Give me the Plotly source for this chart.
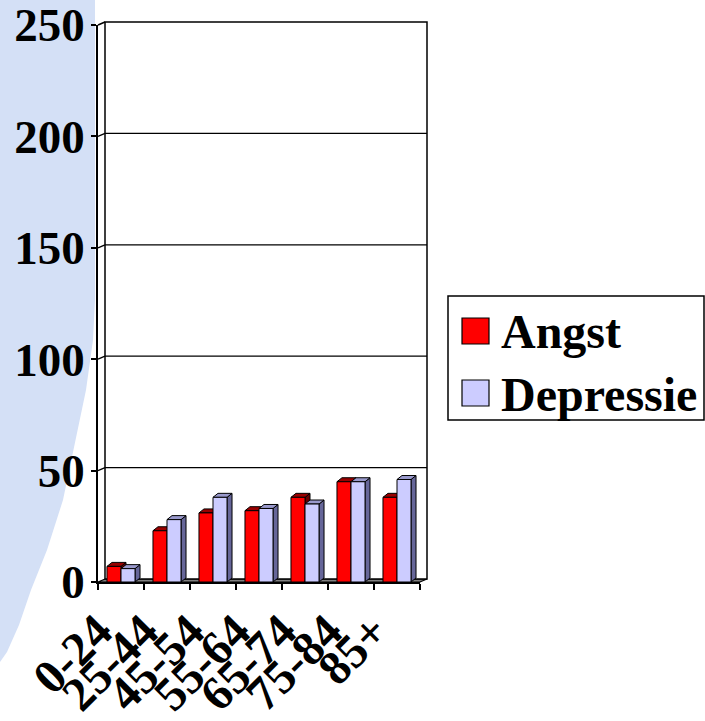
import plotly.graph_objects as go

categories = ["0-24", "25-44", "45-54", "55-64", "65-74", "75-84", "85+"]
angst = [7, 23, 31, 32, 38, 45, 38]
depressie = [6, 28, 38, 33, 35, 45, 46]
series_names = ["Angst", "Depressie"]
yticks = [0, 50, 100, 150, 200, 250]

W, H = 705, 721
FAM = "Liberation Serif, Times New Roman, serif"
FONT = dict(family=FAM, size=47, color="black", weight="bold")
XFONT = dict(family=FAM, size=48, color="black", weight="bold")
LFONT = dict(family=FAM, size=48, color="black", weight="bold")

RED, RED_TOP, RED_SIDE = "#FF0000", "#990000", "#660000"
BLU, BLU_TOP, BLU_SIDE = "#CCCCFF", "#9999CC", "#666699"

# plot-area geometry (pixels)
X0, X1 = 98, 420
Y0, Y1 = 582, 25
DX, DY = 7, 3          # wall depth
BDX, BDY = 5, 4        # bar depth

def px(x):
    return x / W

def py(y):
    return 1 - y / H

def P(x, y):
    return f"{px(x):.5f},{py(y):.5f}"

ncat = len(categories)
xpos = list(range(ncat))
bargap = 0.39
bw = (1 - bargap) / 2
ux = (X1 - X0) / ncat            # pixels per x unit
uy = (Y0 - Y1) / (yticks[-1])    # pixels per y unit
dxd, dyd = BDX / ux, BDY / uy

fig = go.Figure()
fig.add_trace(go.Bar(x=xpos, y=angst, name=series_names[0], marker=dict(color=RED, line=dict(color="black", width=1)),
                     showlegend=False))
fig.add_trace(go.Bar(x=xpos, y=depressie, name=series_names[1], marker=dict(color=BLU, line=dict(color="black", width=1)),
                     showlegend=False))

shapes = []
# background decoration
bg = [(0, 0), (95, 0), (95, 300), (93, 340), (86, 390), (77, 433), (63, 500), (47, 550), (31, 590), (19, 625), (7, 652), (0, 662)]
shapes.append(dict(type="path", xref="paper", yref="paper", layer="below",
                   path="M " + " L ".join(P(a, b) for a, b in bg) + " Z",
                   fillcolor="#D4E0F6", line=dict(width=0)))
# floor
shapes.append(dict(type="path", xref="paper", yref="paper", layer="below",
                   path=f"M {P(X0, Y0)} L {P(X1, Y0)} L {P(X1+DX, Y0-DY)} L {P(X0+DX, Y0-DY)} Z",
                   fillcolor="#808080", line=dict(color="black", width=1.2)))
# back wall
shapes.append(dict(type="rect", xref="paper", yref="paper", layer="below",
                   x0=px(X0+DX), x1=px(X1+DX), y0=py(Y0-DY), y1=py(Y1-DY),
                   fillcolor="white", line=dict(color="black", width=1.5)))
# top-left connector
shapes.append(dict(type="line", xref="paper", yref="paper", layer="below",
                   x0=px(X0), y0=py(Y1), x1=px(X0+DX), y1=py(Y1-DY), line=dict(color="black", width=1.5)))
# gridlines on back wall
for v in yticks[1:-1]:
    yy = Y0 - v * uy
    shapes.append(dict(type="line", xref="paper", yref="paper", layer="below",
                       x0=px(X0+DX), y0=py(yy-DY), x1=px(X1+DX), y1=py(yy-DY), line=dict(color="black", width=1.3)))
    shapes.append(dict(type="line", xref="paper", yref="paper", layer="below",
                       x0=px(X0), y0=py(yy), x1=px(X0+DX), y1=py(yy-DY), line=dict(color="black", width=1.3)))

def dpath(pts):
    return "M " + " L ".join(f"{a:.4f},{b:.4f}" for a, b in pts) + " Z"

for i in range(ncat):
    for xl, v, top, side in [(i - bw, angst[i], RED_TOP, RED_SIDE), (i, depressie[i], BLU_TOP, BLU_SIDE)]:
        xr = xl + bw
        shapes.append(dict(type="path", xref="x", yref="y", layer="below",
                           path=dpath([(xr, 0), (xr, v), (xr + dxd, v + dyd), (xr + dxd, dyd)]),
                           fillcolor=side, line=dict(color="black", width=1)))
        shapes.append(dict(type="path", xref="x", yref="y", layer="below",
                           path=dpath([(xl, v), (xr, v), (xr + dxd, v + dyd), (xl + dxd, v + dyd)]),
                           fillcolor=top, line=dict(color="black", width=1)))

# manual legend
LX0, LY0, LX1, LY1 = 448, 296, 704, 420
shapes.append(dict(type="rect", xref="paper", yref="paper", x0=px(LX0), x1=px(LX1), y0=py(LY1), y1=py(LY0),
                   fillcolor="white", line=dict(color="black", width=1.5), layer="below"))
annotations = []
for (sy, ty, col, name) in [(318, 331, RED, series_names[0]), (380, 394, BLU, series_names[1])]:
    shapes.append(dict(type="rect", xref="paper", yref="paper", x0=px(462), x1=px(489), y0=py(sy+26), y1=py(sy),
                       fillcolor=col, line=dict(color="black", width=1.2)))
    annotations.append(dict(xref="paper", yref="paper", x=px(499), y=py(ty), text=name, showarrow=False,
                            xanchor="left", yanchor="middle", font=LFONT))

fig.update_layout(
    template="none",
    width=W, height=H, margin=dict(l=0, r=0, t=0, b=0, pad=0, autoexpand=False),
    paper_bgcolor="white", plot_bgcolor="rgba(0,0,0,0)",
    barmode="group", bargap=bargap, bargroupgap=0,
    shapes=shapes, annotations=annotations, showlegend=False,
    xaxis=dict(domain=[px(X0), px(X1)], range=[-0.5, ncat - 0.5], tickmode="array", tickvals=xpos,
               ticktext=categories, tickangle=-45, tickfont=XFONT, ticks="", showgrid=False, zeroline=False,
               ticklabelshift=-23, ticklabelstandoff=0, ticklabeloverflow="allow",
               showline=True, linecolor="black", linewidth=1.5, automargin=False,
               minor=dict(tickmode="array", tickvals=[k - 0.5 for k in range(ncat + 1)], ticks="outside",
                          ticklen=6, tickcolor="black", tickwidth=1.5, showgrid=False),
               fixedrange=True),
    yaxis=dict(domain=[py(Y0), py(Y1)], range=[0, yticks[-1]], tickmode="array", tickvals=yticks,
               tickfont=FONT, ticks="outside", ticklen=5, tickcolor="black", tickwidth=1.5,
               ticklabeloverflow="allow", ticklabelstandoff=-3,
               showgrid=False, zeroline=False, showline=True, linecolor="black", linewidth=1.5,
               automargin=False, fixedrange=True),
)

fig.write_html("out.html")
